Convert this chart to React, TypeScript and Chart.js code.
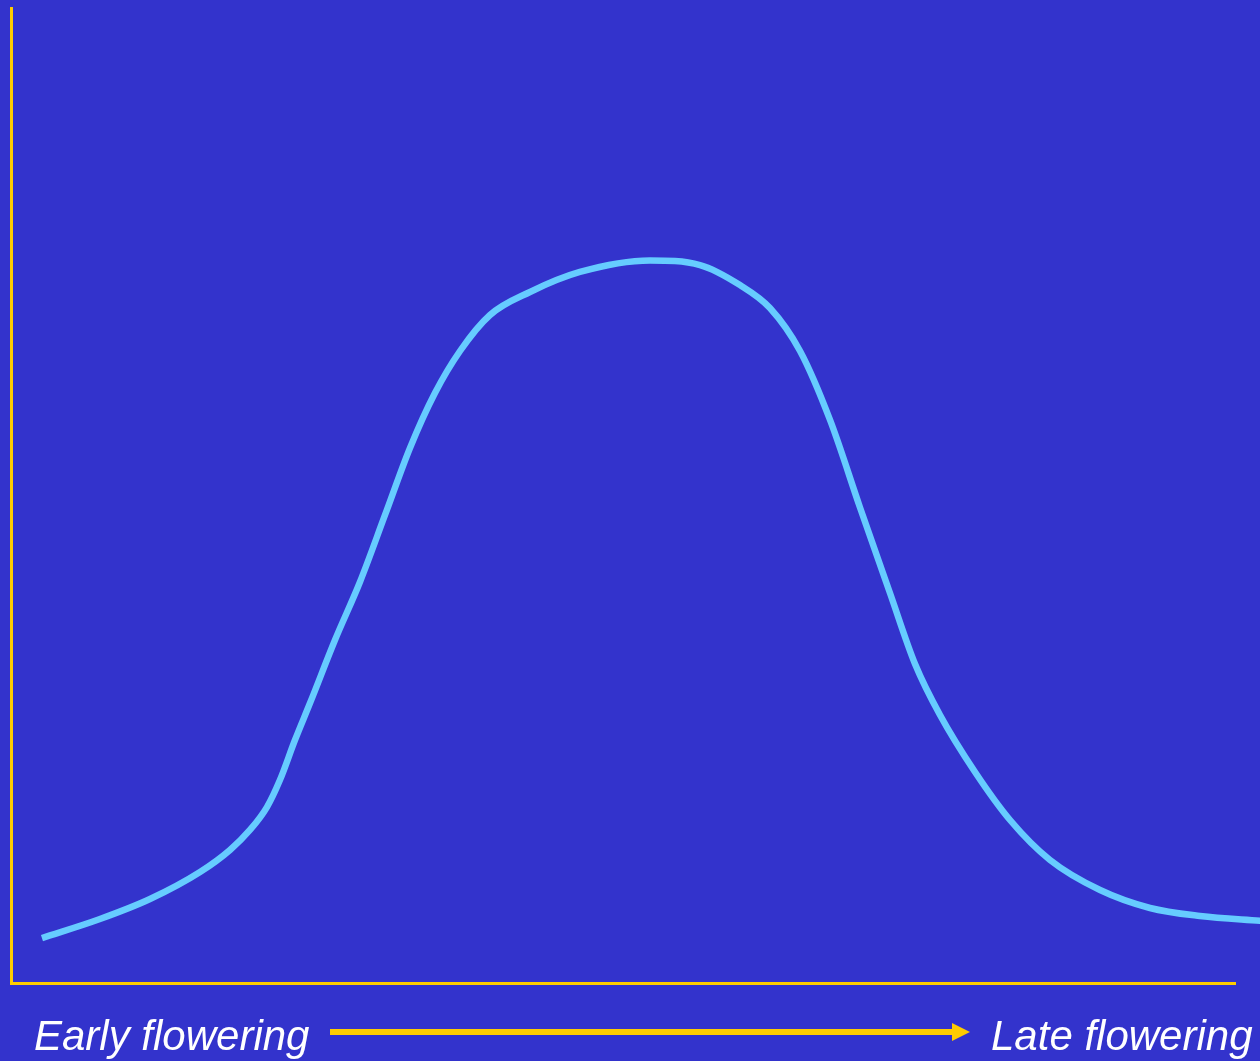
import React, { useEffect, useRef } from "react";
import { Chart, registerables } from "chart.js";

Chart.register(...registerables);

// Flowering time (arbitrary units, early -> late)
const floweringTime = [
  2.49, 7.23, 11.32, 15.41, 17.86, 19.49, 20.88, 21.94, 23.17, 24.4, 26.44, 28.48,
  30.53, 32.57, 34.61, 36.66, 39.11, 42.38, 46.46, 52.19, 56.27, 59.54, 61.99,
  64.45, 66.9, 69.35, 71.8, 73.85, 75.89, 78.75, 81.61, 84.88, 88.97, 93.05, 97.14,
  102.21,
];
// Relative frequency (arbitrary units)
const frequency = [
  4.66, 6.61, 8.66, 11.43, 13.69, 15.74, 18.09, 20.86, 24.96, 28.75, 35.21, 41.16,
  48.03, 54.9, 60.53, 64.84, 68.53, 70.89, 72.94, 74.12, 73.65, 71.6, 69.25, 64.84,
  57.77, 48.8, 40.03, 32.75, 27.52, 21.68, 16.76, 12.66, 9.58, 7.74, 6.92, 6.41,
];
const earlyLabel = "Early flowering";
const lateLabel = "Late flowering";

const BG = "#3333CC";
const YELLOW = "#FFCC00";
const CURVE = "#66CCFF";

export default function App() {
  const ref = useRef<HTMLCanvasElement | null>(null);

  useEffect(() => {
    if (!ref.current) return;
    const labelPlugin = {
      id: "floweringLabels",
      afterDraw(chart: any) {
        const ctx = chart.ctx as CanvasRenderingContext2D;
        ctx.save();
        ctx.fillStyle = "#FFFFFF";
        ctx.font = 'italic 42px "Liberation Sans", Arial, sans-serif';
        ctx.textBaseline = "alphabetic";
        ctx.textAlign = "left";
        ctx.fillText(earlyLabel, 34, 1050);
        ctx.fillText(lateLabel, 991, 1050);
        // arrow
        ctx.fillStyle = YELLOW;
        ctx.fillRect(330, 1029, 623, 6);
        ctx.beginPath();
        ctx.moveTo(952, 1023);
        ctx.lineTo(970, 1032);
        ctx.lineTo(952, 1041);
        ctx.closePath();
        ctx.fill();
        ctx.restore();
      },
    };
    const chart = new Chart(ref.current, {
      type: "line",
      data: {
        datasets: [
          {
            data: floweringTime.map((x, i) => ({ x, y: frequency[i] })),
            borderColor: CURVE,
            borderWidth: 6.5,
            pointRadius: 0,
            cubicInterpolationMode: "monotone",
            fill: false,
            clip: false as any,
          },
        ],
      },
      options: {
        animation: false,
        responsive: false,
        layout: { padding: { left: 11.5, top: 8, right: 25, bottom: 77.5 } },
        plugins: { legend: { display: false }, tooltip: { enabled: false } },
        scales: {
          x: {
            type: "linear",
            min: 0,
            max: 100,
            ticks: { display: false },
            grid: { display: false, drawTicks: false },
            border: { display: true, color: YELLOW, width: 3 },
          },
          y: {
            type: "linear",
            min: 0,
            max: 100,
            ticks: { display: false },
            grid: { display: false, drawTicks: false },
            border: { display: true, color: YELLOW, width: 3 },
          },
        },
      },
      plugins: [labelPlugin],
    });
    return () => chart.destroy();
  }, []);

  return (
    <div
      style={{
        position: "fixed",
        left: 0,
        top: 0,
        width: 1260,
        height: 1061,
        background: BG,
        overflow: "hidden",
      }}
    >
      <canvas ref={ref} width={1260} height={1061} style={{ display: "block" }} />
    </div>
  );
}
